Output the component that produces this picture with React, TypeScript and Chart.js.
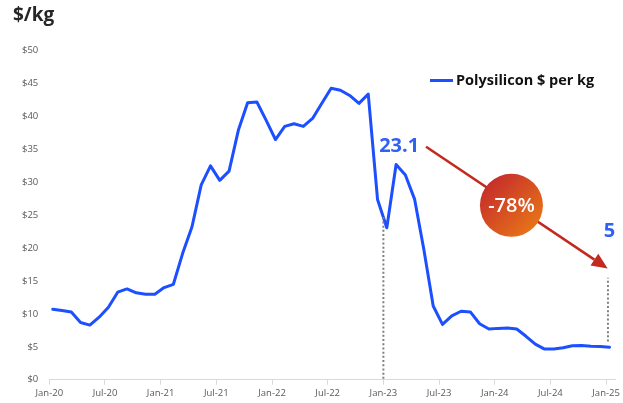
import React, { useEffect, useRef } from 'react';
import { Chart, registerables } from 'chart.js';

Chart.register(...registerables);

// Monthly polysilicon price, Jan-20 .. Jan-25 ($/kg)
const prices = [
  10.7, 10.5, 10.3, 8.7, 8.3, 9.5, 11.0, 13.3, 13.8, 13.2, 13.0, 13.0,
  14.0, 14.5, 19.2, 23.2, 29.6, 32.5, 30.3, 31.7, 37.9, 42.1, 42.2, 39.4,
  36.5, 38.5, 38.9, 38.5, 39.7, 42.0, 44.3, 44.0, 43.2, 42.0, 43.4, 27.4,
  23.1, 32.7, 31.1, 27.4, 19.7, 11.2, 8.4, 9.7, 10.4, 10.3, 8.5, 7.7,
  7.8, 7.85, 7.7, 6.6, 5.4, 4.65, 4.65, 4.85, 5.15, 5.2, 5.1, 5.05,
  4.95,
];
const xTickLabels = ['Jan-20', 'Jul-20', 'Jan-21', 'Jul-21', 'Jan-22', 'Jul-22', 'Jan-23', 'Jul-23', 'Jan-24', 'Jul-24', 'Jan-25'];
const seriesLabel = 'Polysilicon $ per kg';
const unitTitle = '$/kg';
const startLabel = '23.1';
const endLabel = '5';
const changeLabel = '-78%';

// each observation sits ~11 days into its month
const dayOffset = 0.37;

// annotation anchors (data units: months since Jan-20, $/kg)
const dropMonth = 36;
const endMarkMonth = 60.2;
const endMarkRange = [5.8, 15.5];
const arrowFrom = { x: 40.6, y: 35.4 };
const arrowTo = { x: 60.17, y: 16.9 };
const badgeAt = { x: 49.8, y: 26.5 };
const startLabelAt = { x: 37.7, y: 35.4 };
const endLabelAt = { x: 60.35, y: 22.6 };

const FONT = '"Open Sans", "Noto Sans", sans-serif';
const LINE_BLUE = '#1c4fff';
const LABEL_BLUE = '#2f62f2';

const annotations = {
  id: 'annotations',
  afterDatasetsDraw(chart: any) {
    const { ctx } = chart;
    const xs = chart.scales.x;
    const ys = chart.scales.y;
    const px = (v: number) => xs.getPixelForValue(v);
    const py = (v: number) => ys.getPixelForValue(v);

    ctx.save();
    // dotted drop lines
    ctx.strokeStyle = '#808080';
    ctx.lineWidth = 2;
    ctx.setLineDash([2, 2.2]);
    const i0 = Math.floor(dropMonth - dayOffset);
    const t = dropMonth - (i0 + dayOffset);
    const yAtDrop = prices[i0] + (prices[i0 + 1] - prices[i0]) * t;
    ctx.beginPath();
    ctx.moveTo(px(dropMonth), py(yAtDrop));
    ctx.lineTo(px(dropMonth), py(0));
    ctx.stroke();
    ctx.beginPath();
    ctx.moveTo(px(endMarkMonth), py(endMarkRange[0]));
    ctx.lineTo(px(endMarkMonth), py(endMarkRange[1]));
    ctx.stroke();
    ctx.setLineDash([]);

    // arrow
    const ax0 = px(arrowFrom.x), ay0 = py(arrowFrom.y);
    const ax1 = px(arrowTo.x), ay1 = py(arrowTo.y);
    const ang = Math.atan2(ay1 - ay0, ax1 - ax0);
    const headLen = 16, headHalf = 7;
    ctx.strokeStyle = '#c22a1e';
    ctx.fillStyle = '#c22a1e';
    ctx.lineWidth = 2.5;
    ctx.beginPath();
    ctx.moveTo(ax0, ay0);
    ctx.lineTo(ax1 - Math.cos(ang) * headLen, ay1 - Math.sin(ang) * headLen);
    ctx.stroke();
    const bx = ax1 - Math.cos(ang) * headLen, by = ay1 - Math.sin(ang) * headLen;
    ctx.beginPath();
    ctx.moveTo(ax1, ay1);
    ctx.lineTo(bx + Math.sin(ang) * headHalf, by - Math.cos(ang) * headHalf);
    ctx.lineTo(bx - Math.sin(ang) * headHalf, by + Math.cos(ang) * headHalf);
    ctx.closePath();
    ctx.fill();

    // badge
    const cx = px(badgeAt.x), cy = py(badgeAt.y), r = 31.5;
    const g = ctx.createLinearGradient(cx - r, cy - r, cx + r, cy + r);
    g.addColorStop(0, '#c0212e');
    g.addColorStop(1, '#ec8015');
    ctx.fillStyle = g;
    ctx.beginPath();
    ctx.arc(cx, cy, r, 0, Math.PI * 2);
    ctx.fill();
    ctx.fillStyle = '#ffffff';
    ctx.font = `600 20px ${FONT}`;
    ctx.textAlign = 'center';
    ctx.textBaseline = 'middle';
    ctx.fillText(changeLabel, cx, cy + 1);

    // value labels
    ctx.fillStyle = LABEL_BLUE;
    ctx.font = `bold 20px ${FONT}`;
    ctx.fillText(startLabel, px(startLabelAt.x), py(startLabelAt.y));
    ctx.fillText(endLabel, px(endLabelAt.x), py(endLabelAt.y));

    // legend
    const ds = chart.data.datasets[0];
    ctx.strokeStyle = ds.borderColor;
    ctx.lineWidth = 3;
    ctx.beginPath();
    ctx.moveTo(430, 80.5);
    ctx.lineTo(453, 80.5);
    ctx.stroke();
    ctx.fillStyle = '#111111';
    ctx.font = `bold 14.5px ${FONT}`;
    ctx.textAlign = 'left';
    ctx.fillText(ds.label, 456, 81);

    // unit title
    ctx.fillStyle = '#262626';
    ctx.font = `bold 19px ${FONT}`;
    ctx.textBaseline = 'middle';
    ctx.fillText(unitTitle, 13, 16);
    ctx.restore();
  },
};

export default function App() {
  const ref = useRef<HTMLCanvasElement | null>(null);

  useEffect(() => {
    document.body.style.margin = '0';
    const canvas = ref.current;
    if (!canvas) return;
    const chart = new Chart(canvas, {
      type: 'line',
      data: {
        datasets: [
          {
            label: seriesLabel,
            data: prices.map((v, i) => ({ x: i + dayOffset, y: v })),
            borderColor: LINE_BLUE,
            borderWidth: 3,
            pointRadius: 0,
            tension: 0,
            borderJoinStyle: 'round',
            borderCapStyle: 'round',
          },
        ],
      },
      options: {
        responsive: false,
        animation: false,
        layout: { padding: { left: 0, right: 7, top: 50.7, bottom: 0 } },
        plugins: { legend: { display: false }, tooltip: { enabled: false } },
        scales: {
          x: {
            type: 'linear',
            min: 0,
            max: 61,
            afterFit: (s: any) => { s.height = 23.3; },
            ticks: {
              stepSize: 6,
              includeBounds: false,
              autoSkip: false,
              maxRotation: 0,
              padding: 3,
              color: '#595959',
              font: { family: FONT, size: 9.5 },
              callback: (v: any) => xTickLabels[Math.round(Number(v) / 6)] ?? '',
            },
            grid: { drawOnChartArea: false, drawTicks: true, tickLength: 5, color: '#d9d9d9' },
            border: { display: true, color: '#d9d9d9', width: 1 },
          },
          y: {
            min: 0,
            max: 50,
            afterFit: (s: any) => { s.width = 49.3; },
            ticks: {
              stepSize: 5,
              padding: 11,
              color: '#595959',
              font: { family: FONT, size: 9.5 },
              callback: (v: any) => '$' + v,
            },
            grid: { display: false, drawTicks: false },
            border: { display: false },
          },
        },
      },
      plugins: [annotations],
    });
    return () => chart.destroy();
  }, []);

  return (
    <div style={{ width: 623, height: 403 }}>
      <canvas ref={ref} width={623} height={403} />
    </div>
  );
}
